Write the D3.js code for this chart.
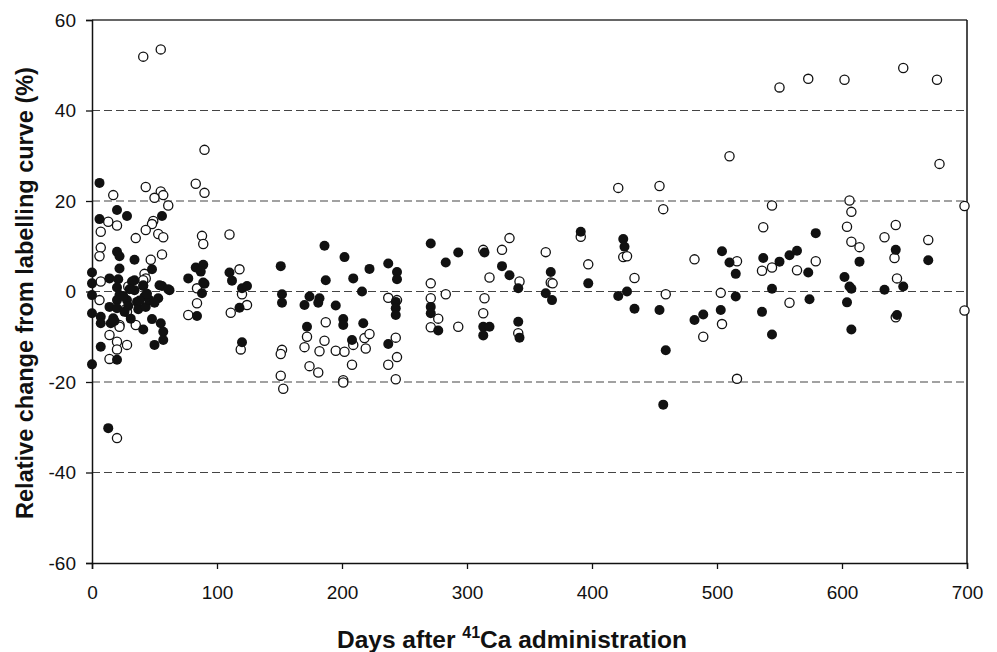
<!DOCTYPE html>
<html>
<head>
<meta charset="utf-8">
<script src="https://cdn.jsdelivr.net/npm/d3@7"></script>
<style>
  body { margin: 0; background: #fff; }
  svg { display: block; }
  .tick text { font-family: "Liberation Sans", Arial, sans-serif; }
</style>
</head>
<body>
<div id="chart"></div>
<script>
// axis ticks
var xTicks = [0, 100, 200, 300, 400, 500, 600, 700];
var yTicks = [-60, -40, -20, 0, 20, 40, 60];
var gridValues = [-40, -20, 0, 20, 40];

// open circles: [day, relative change %]
var openPoints = [
  [41,51.9],[55,53.5],[90,31.3],[43,23.1],[17,21.3],[83,23.8],[90,21.8],[55,22.1],[57,21.3],[50,20.7],[61,19.0],
  [13,15.4],[20,14.6],[49,15.6],[48,14.9],[43,13.6],[7,13.2],[35,11.8],[53,12.7],[57,12.0],[88,12.3],[89,10.5],[110,12.6],
  [7,9.7],[6,7.8],[56,8.2],[47,7.0],[42,3.9],[43,2.9],[7,2.2],[29,1.1],[84,0.7],[84,-2.6],[77,-5.2],[118,4.9],[120,-0.6],
  [124,-3.0],[111,-4.7],[119,-12.8],[6,-1.9],[22,-7.4],[22,-7.8],[14,-9.6],[20,-11.1],[20,-12.8],[28,-11.8],[14,-14.9],
  [20,-32.4],[27,-3.9],[35,-7.4],[28,-4.5],[41,2.5],
  [152,-12.9],[151,-13.8],[151,-18.6],[153,-21.5],[187,-6.8],[172,-10.0],[170,-12.3],[186,-10.9],[182,-13.2],[174,-16.5],
  [181,-17.9],[195,-13.1],[202,-13.3],[201,-19.6],[201,-20.1],[208,-16.2],[209,-11.8],[218,-10.3],[219,-12.6],[222,-9.4],
  [237,-1.4],[244,-1.9],[243,-10.2],[244,-14.5],[237,-16.2],[243,-19.4],
  [271,1.8],[271,-1.5],[283,-0.6],[277,-6.0],[271,-7.9],[293,-7.8],[334,11.8],[328,9.2],[313,9.2],[318,3.1],[342,2.2],
  [314,-1.5],[313,-4.8],[341,-9.2],
  [510,29.9],[421,22.9],[454,23.3],[457,18.2],[363,8.7],[391,12.1],[397,6.0],[367,2.0],[368.5,1.8],[425,7.6],[428,7.8],
  [434,3.0],[459,-0.6],[482,7.1],[516,6.7],[503,-0.3],[504,-7.2],[489,-10.0],[516,-19.3],
  [550,45.1],[573,47.0],[602,46.8],[649,49.4],[676,46.8],[678,28.2],[544,19.0],[606,20.1],[607.5,17.6],[698,18.9],
  [537,14.2],[604,14.3],[643,14.7],[607.5,11.0],[614,9.8],[634,12.0],[669,11.4],[642,7.4],[579,6.7],[536,4.6],[544,5.3],
  [564,4.7],[644,2.9],[558,-2.5],[698,-4.2],[643,-5.7]
];

// filled circles: [day, relative change %]
var filledPoints = [
  [6,24.0],[20,18.0],[28,16.7],[6,16.0],[56,16.7],[20,8.8],[22,7.8],[34,7.0],[22,5.1],[48,4.9],[0,4.2],[0,1.8],[0,-0.8],
  [0,-4.8],[0,-16.1],[14,2.9],[21,2.7],[34,2.5],[41,1.2],[56,1.2],[62,0.3],[77,2.9],[83,5.3],[89,5.9],[87,4.4],[90,1.7],
  [88,-0.4],[84,-5.4],[89,2.0],[110,4.2],[112,2.4],[120,0.7],[124,1.2],[118,-3.6],[120,-11.2],
  [7,-5.6],[7,-7.0],[7,-12.2],[14,-3.4],[15,-7.0],[17,-5.9],[20,-15.1],[20,0.9],[22,-0.8],[20,-1.9],[20,-3.7],[28,-1.9],
  [29,-3.2],[32,2.2],[34,0.3],[36,-2.3],[37,-3.9],[41,-8.4],[41,1.4],[42,-1.1],[43,-3.4],[46,-1.9],[48,-6.1],[50,-11.8],
  [53,-1.5],[54,1.4],[55,-7.0],[57,-8.9],[57,-10.7],[61,0.5],[13,-30.2],
  [25,-1.0],[30,0.5],[38,-2.0],[44,-0.5],[50,-2.5],[26,-4.5],[31,-6.0],[18,-6.5],
  [151,5.6],[152,-0.6],[152,-2.5],[186,10.1],[187,2.5],[202,7.6],[209,2.9],[222,5.0],[216,0.0],[237,6.2],[244,4.3],
  [244,2.7],[174,-1.1],[182,-1.5],[170,-3.0],[181,-2.5],[195,-3.1],[172,-7.8],[201,-6.1],[201,-7.4],[217,-7.0],
  [208,-10.7],[237,-11.6],[243,-2.3],[243,-3.7],[243,-5.2],
  [271,10.6],[283,6.4],[293,8.6],[271,-3.4],[271,-4.8],[277,-8.6],[314,8.6],[328,5.6],[334,3.6],[341,0.7],[313,-7.8],
  [318,-7.8],[313,-9.7],[341,-6.7],[342,-10.2],
  [391,13.2],[367,4.3],[397,1.8],[363,-0.4],[368,-1.9],[425,11.6],[426,9.9],[428,0.0],[421,-1.0],[434,-3.8],[454,-4.1],
  [459,-13.0],[457,-25.0],[504,8.9],[510,6.4],[515,3.9],[515,-1.1],[503,-4.1],[489,-5.1],[482,-6.3],
  [579,12.9],[537,7.4],[550,6.6],[558,8.0],[564,9.0],[573,4.2],[614,6.6],[643,9.2],[669,6.9],[544,0.6],[602,3.2],
  [606,1.1],[607.5,0.6],[634,0.4],[649,1.1],[574,-1.7],[604,-2.4],[536,-4.5],[644,-5.2],[544,-9.5],[607.5,-8.4]
];

// set the dimensions and margins of the graph
var W = 997, H = 652;
var margin = {top: 20, right: 30, bottom: 89, left: 92},
    width = W - margin.left - margin.right,
    height = H - margin.top - margin.bottom;

var x = d3.scaleLinear().domain([0, 700]).range([0, width]);
var y = d3.scaleLinear().domain([-60, 60]).range([height, 0]);

var svg = d3.select("#chart").append("svg")
    .attr("width", W)
    .attr("height", H);
var g = svg.append("g")
    .attr("transform", "translate(" + margin.left + "," + margin.top + ")");

// dashed grid lines
g.selectAll(".grid").data(gridValues).enter().append("line")
  .attr("class", "grid")
  .attr("x1", 0).attr("x2", width)
  .attr("y1", function(d){ return y(d); })
  .attr("y2", function(d){ return y(d); })
  .style("stroke", "#444")
  .style("stroke-width", 1.2)
  .style("stroke-dasharray", "8,4");

// frame top / right
g.append("line").attr("x1", 0).attr("x2", width).attr("y1", 0).attr("y2", 0)
  .style("stroke", "#333").style("stroke-width", 1.3);
g.append("line").attr("x1", width).attr("x2", width).attr("y1", 0).attr("y2", height)
  .style("stroke", "#111").style("stroke-width", 1.5);

// points
g.selectAll(".open").data(openPoints).enter().append("circle")
  .attr("class", "open")
  .attr("cx", function(d){ return x(d[0]); })
  .attr("cy", function(d){ return y(d[1]); })
  .attr("r", 4.6)
  .style("fill", "#fff")
  .style("stroke", "#111")
  .style("stroke-width", 1.3);

g.selectAll(".filled").data(filledPoints).enter().append("circle")
  .attr("class", "filled")
  .attr("cx", function(d){ return x(d[0]); })
  .attr("cy", function(d){ return y(d[1]); })
  .attr("r", 5)
  .style("fill", "#111")
  .style("stroke", "none");

// axes (plain hyphen for negatives, like the original)
var plain = function(d){ return String(d); };
var xAxis = g.append("g")
  .attr("transform", "translate(0," + height + ")")
  .call(d3.axisBottom(x).tickValues(xTicks).tickFormat(plain).tickSize(6).tickPadding(17));
var yAxis = g.append("g")
  .call(d3.axisLeft(y).tickValues(yTicks).tickFormat(plain).tickSize(6).tickPadding(10));

[xAxis, yAxis].forEach(function(a){
  a.select(".domain").style("stroke", "#111").style("stroke-width", 1.5);
  a.selectAll(".tick line").style("stroke", "#111").style("stroke-width", 1.3);
  a.selectAll(".tick text").style("font-size", "19px").style("fill", "#111");
});

// axis titles
var xt = svg.append("text")
  .attr("x", 512).attr("y", 648)
  .attr("text-anchor", "middle")
  .style("font-family", "Liberation Sans, Arial, sans-serif")
  .style("font-weight", "bold")
  .style("font-size", "24.5px")
  .style("fill", "#111");
xt.append("tspan").text("Days after ");
xt.append("tspan").text("41").style("font-size", "16px").attr("dy", -10);
xt.append("tspan").text("Ca administration").attr("dy", 10);

svg.append("text")
  .attr("transform", "translate(33," + 293 + ") rotate(-90)")
  .attr("text-anchor", "middle")
  .style("font-family", "Liberation Sans, Arial, sans-serif")
  .style("font-weight", "bold")
  .style("font-size", "23.5px")
  .style("fill", "#111")
  .text("Relative change from labelling curve (%)");
</script>
</body>
</html>
